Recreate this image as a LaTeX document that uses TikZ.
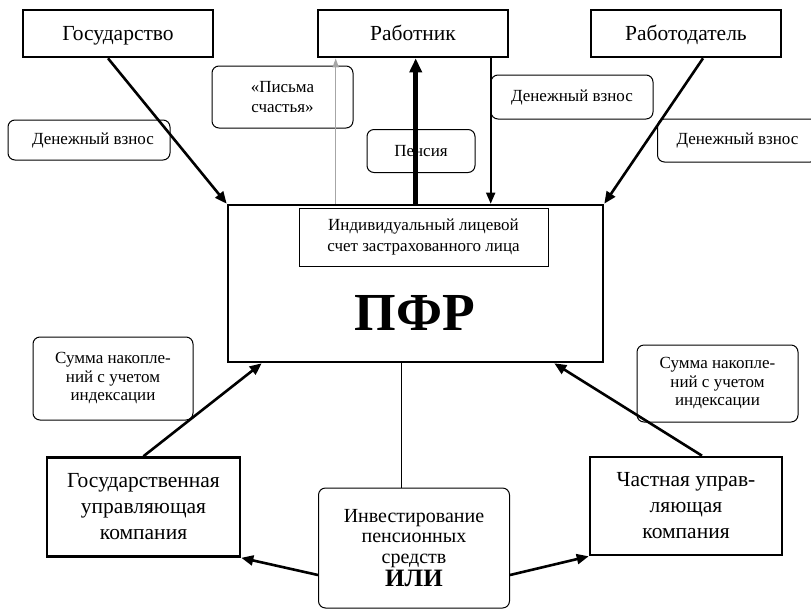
\documentclass[tikz,border=0pt]{standalone}
\usepackage{fontspec}
\setmainfont{Liberation Serif}
\usetikzlibrary{arrows.meta}

\begin{document}
\begin{tikzpicture}[x=1pt,y=-1pt,
  party/.style={draw,line width=2.6pt,minimum width=190pt,minimum height=47pt,align=center,font=\fontsize{21.5}{26}\selectfont},
  topparty/.style={party,text height=17pt,text depth=3pt},
  note/.style={draw,line width=1pt,rounded corners=7pt,align=center,font=\fontsize{17}{18.5}\selectfont},
  flow/.style={line width=2.6pt,-{Triangle[length=12pt,width=10pt]}}]
\useasboundingbox (0,0) rectangle (811,611);
\node[topparty] (gos) at (118,33.5) {Государство};
\node[topparty] (rab) at (413,33.5) {Работник};
\node[topparty] (rdt) at (686,33.5) {Работодатель};
\node[draw,line width=2.6pt,minimum width=375pt,minimum height=157pt] (pfr) at (415.5,283.5) {};
\node[font=\bfseries\fontsize{53.5}{53.5}\selectfont] (pfrname) at (415,313) {ПФР};
\node[draw,line width=1pt,minimum width=249pt,minimum height=58pt,align=center,font=\fontsize{17}{21}\selectfont] (lic) at (423.5,237) {Индивидуальный лицевой\\счет застрахованного лица};
\node[note,minimum width=162pt,minimum height=40pt] (n1) at (89,140) {\hspace*{8pt}Денежный взнос};
\node[note,minimum width=141pt,minimum height=62pt,font=\fontsize{17}{20}\selectfont] (n2) at (282.5,97) {«Письма\\счастья»};
\node[note,minimum width=108pt,minimum height=43pt] (n3) at (421,151) {Пенсия};
\node[note,minimum width=162pt,minimum height=44pt] (n4) at (572,97) {Денежный взнос};
\node[note,minimum width=160pt,minimum height=43pt,anchor=west] (n5) at (657,140.5) {Денежный взнос};
\node[note,minimum width=160pt,minimum height=83pt] (n6) at (113,378.5) {Сумма накопле-\\ний с учетом\\индексации};
\node[note,minimum width=161pt,minimum height=77pt] (n7) at (717.5,383.5) {Сумма накопле-\\ний с учетом\\индексации};
\node[party,minimum width=193pt,minimum height=99pt] (gup) at (143.5,507) {Государственная\\управляющая\\компания};
\node[party,minimum width=192pt,minimum height=98pt] (cup) at (686,506) {Частная управ-\\ляющая\\компания};
\node[note,minimum width=191pt,minimum height=120pt,font=\fontsize{20}{20.5}\selectfont] (inv) at (414,548) {Инвестирование\\пенсионных\\средств\\[2pt]{\bfseries\fontsize{25}{25}\selectfont ИЛИ}};
\draw[flow] ([xshift=-10pt]gos.south) -- (pfr.north west);
\draw[flow] ([xshift=17pt]rdt.south) -- (pfr.north east);
\draw[gray!70,line width=1.5pt,-{Triangle[length=9pt,width=6pt]}] ([xshift=109pt]pfr.north west) -- ([xshift=19pt]rab.south west);
\draw[line width=4.5pt,-{Triangle[length=14pt,width=12pt]}] ([xshift=189pt]pfr.north west) -- ([xshift=99pt]rab.south west);
\draw[line width=1.8pt,-{Triangle[length=11pt,width=9pt]}] ([xshift=174pt]rab.south west) -- ([xshift=264pt]pfr.north west);
\draw[flow] (gup.north) -- ([xshift=35pt]pfr.south west);
\draw[flow] ([xshift=16pt]cup.north) -- ([xshift=-50pt]pfr.south east);
\draw[line width=1pt] ([xshift=-14pt]pfr.south) -- ([xshift=-12.5pt]inv.north);
\draw[flow] ([yshift=-27pt]inv.west) -- (gup.south east);
\draw[flow] ([yshift=-27pt]inv.east) -- (cup.south west);
\end{tikzpicture}
\end{document}
